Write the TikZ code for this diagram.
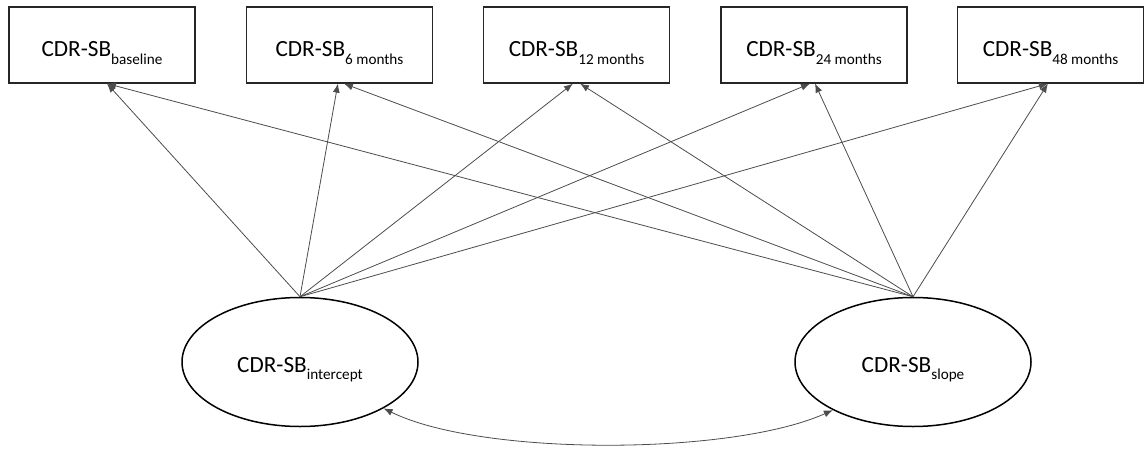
\documentclass[tikz,border=0pt]{standalone}
\usepackage{fontspec}
\setmainfont{Carlito}
\usetikzlibrary{shapes.geometric,arrows.meta}
\newcommand{\cdrsub}[1]{CDR-SB\raisebox{-3.6pt}[0pt][0pt]{\fontsize{7.6}{8}\selectfont #1}}
\tikzset{
  obsbox/.style={draw=black!85, line width=0.6pt, minimum width=93pt, minimum height=38pt, inner sep=0pt, text height=12pt, text depth=0pt, font=\fontsize{11.6}{13}\selectfont},
  latentnode/.style={draw=black, ellipse, line width=0.75pt, minimum width=118pt, minimum height=64.5pt, inner sep=0pt, text height=10pt, text depth=0pt, font=\fontsize{11.6}{13}\selectfont},
  loading/.style={draw=black!70, line width=0.4pt, -{Latex[length=4.5pt,width=3.5pt]}},
  covar/.style={draw=black!70, line width=0.4pt, {Latex[length=4.5pt,width=3.5pt]}-{Latex[length=4.5pt,width=3.5pt]}}
}
\begin{document}
\begin{tikzpicture}[x=0.5pt,y=-0.5pt]
\useasboundingbox (0,0) rectangle (1144,454);
\node[obsbox] (b1) at (102,45) {\cdrsub{baseline}};
\node[obsbox] (b2) at (339.5,45) {\cdrsub{6 months}};
\node[obsbox] (b3) at (576.5,45) {\cdrsub{12 months}};
\node[obsbox] (b4) at (814,45) {\cdrsub{24 months}};
\node[obsbox] (b5) at (1050.5,45) {\cdrsub{48 months}};
\node[latentnode] (int) at (300,362) {\cdrsub{intercept}};
\node[latentnode] (slp) at (913,362) {\cdrsub{slope}};
\draw[loading] (int.north) -- ([xshift=2.5pt]b1.south);
\draw[loading] (int.north) -- ([xshift=-0.8pt]b2.south);
\draw[loading] (int.north) -- ([xshift=-1.8pt]b3.south);
\draw[loading] (int.north) -- ([xshift=-2pt]b4.south);
\draw[loading] (int.north) -- ([xshift=-1.3pt]b5.south);
\draw[loading] (slp.north) -- ([xshift=2.5pt]b1.south);
\draw[loading] (slp.north) -- ([xshift=2.2pt]b2.south);
\draw[loading] (slp.north) -- ([xshift=1.8pt]b3.south);
\draw[loading] (slp.north) -- ([xshift=0.5pt]b4.south);
\draw[loading] (slp.north) -- ([xshift=-1.3pt]b5.south);
\draw[covar] (int.-29.5) .. controls (480,456) and (730,456) .. (slp.-149);
\end{tikzpicture}
\end{document}
